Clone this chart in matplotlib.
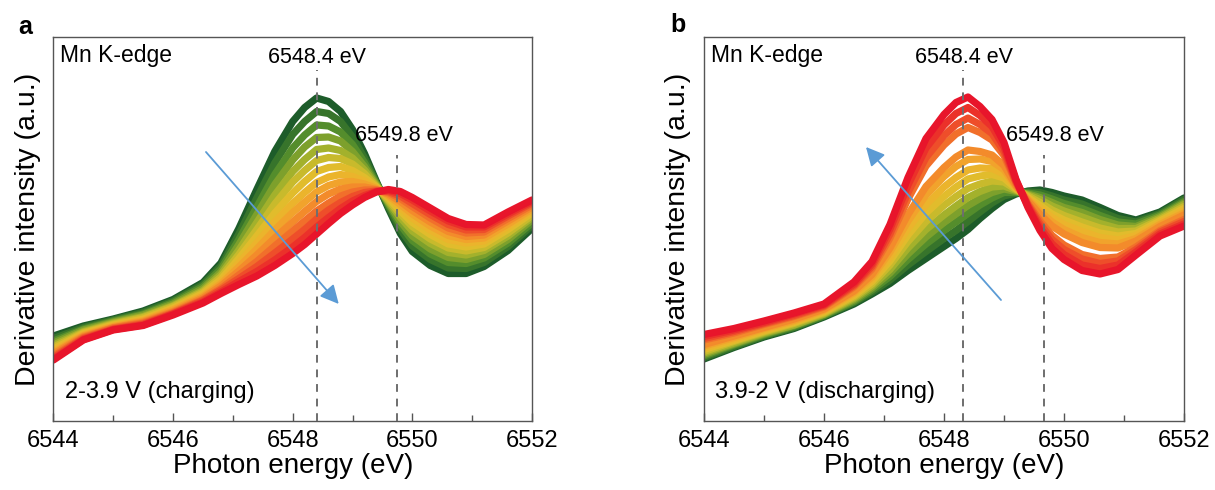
"""
Mn K-edge derivative XANES, charging (a) and discharging (b)
out: out.png
"""

import matplotlib
matplotlib.use("Agg")
import matplotlib.pyplot as plt
from matplotlib.colors import LinearSegmentedColormap
from matplotlib.ticker import MultipleLocator

plt.rcParams['font.family'] = ['Liberation Sans', 'DejaVu Sans']

energy = [6544, 6544.5, 6545, 6545.5, 6546, 6546.5, 6546.8, 6547.1, 6547.4, 6547.7, 6548.0, 6548.2, 6548.4,
          6548.6, 6548.8, 6549.0, 6549.2, 6549.4, 6549.6, 6549.8, 6550.0, 6550.3, 6550.6, 6550.9, 6551.2,
          6551.6, 6552]

# 2-3.9 V charging, first scan (green) -> last scan (red)
charge_curves = [
    [85.5, 95.5, 102.5, 110.5, 122, 139, 158.5, 193, 232, 270, 300, 314, 323.5, 320, 310, 292, 268, 240, 213, 188, 170, 156, 148, 148, 155, 171, 193],
    [83, 94, 101.5, 109, 120.5, 137, 155.5, 187.5, 223.5, 258.5, 287, 300, 310, 308, 300, 284.5, 263.5, 239, 215, 192, 175.5, 162, 153.5, 153, 159, 175, 196],
    [80.5, 92.5, 100.5, 107.5, 119, 135, 152.5, 182, 214.5, 247, 273.5, 286.5, 296.5, 295.5, 289.5, 277, 259, 238, 217, 196.5, 181, 167.5, 159, 158, 163.5, 178.5, 198.5],
    [78.5, 91.5, 99.5, 106.5, 117.5, 133, 149.5, 177, 207, 237, 261.5, 274.5, 284, 284.5, 280.5, 270, 255, 237, 218.5, 200, 185.5, 172.5, 164, 162, 167, 182, 201.5],
    [76.5, 90, 98.5, 105, 116, 131, 147, 171.5, 199, 226.5, 250, 262, 272, 273.5, 271, 263.5, 251.5, 236, 220, 204, 190.5, 178, 169, 166.5, 171, 185.5, 204],
    [74.5, 89, 97.5, 104, 115, 129.5, 144.5, 167, 192, 217.5, 239.5, 251, 261, 264, 263, 257.5, 248, 235, 221.5, 207.5, 195, 182.5, 173.5, 170.5, 174, 188.5, 206],
    [72.5, 88, 96.5, 102.5, 113.5, 128, 142, 163, 185.5, 208.5, 228.5, 240, 250, 254, 255, 251, 244, 234.5, 223.5, 210.5, 199, 187, 177.5, 174.5, 177.5, 192, 208.5],
    [70.5, 87, 95.5, 101.5, 112.5, 126.5, 139.5, 158.5, 178.5, 199.5, 218, 229, 239, 244.5, 247, 245, 240.5, 233.5, 225, 214, 203.5, 191.5, 182, 178.5, 180.5, 195, 210.5],
    [69, 86, 95, 100.5, 111.5, 125, 137.5, 154.5, 172.5, 191.5, 209, 219.5, 229.5, 236, 239.5, 240, 237.5, 233, 226, 217, 207.5, 195.5, 186, 182, 183.5, 197.5, 212.5],
    [67.5, 85, 94, 99.5, 110, 123.5, 135.5, 150.5, 166.5, 183.5, 199.5, 210, 220, 227.5, 232.5, 234.5, 234.5, 232, 227.5, 220, 211, 199.5, 190, 185, 186.5, 200.5, 214.5],
    [65.5, 84, 93.5, 98.5, 109, 122, 133, 146.5, 160, 175.5, 190.5, 200.5, 210.5, 218.5, 225.5, 229.5, 231.5, 231.5, 229, 223, 215, 203.5, 193.5, 188.5, 189.5, 203, 216.5],
    [64, 83, 92.5, 97.5, 108, 121, 131.5, 143, 155, 168.5, 182.5, 192, 202.5, 211.5, 219, 225, 229, 230.5, 230, 225.5, 218, 207, 197, 191.5, 192, 205.5, 218.5],
    [62.5, 82, 92, 96.5, 107.5, 119.5, 129.5, 140, 150, 161.5, 174.5, 184, 194.5, 204, 213, 220.5, 226, 230, 231, 228, 221.5, 210.5, 200.5, 194.5, 194.5, 207.5, 220],
    [61.5, 81.5, 91.5, 96, 106.5, 118.5, 128, 137, 145.5, 156, 168, 177, 187.5, 198, 208, 216.5, 224, 229.5, 232, 230, 224, 213.5, 203, 197, 196.5, 209.5, 221.5],
]

# 3.9-2 V discharging, first scan (green) -> last scan (red)
discharge_curves = [
    [62.5, 74, 84.5, 93, 104.5, 117.5, 127.5, 138, 151, 163, 175, 183, 192, 203, 213, 222, 227.5, 230.5, 231.5, 229, 225.5, 221.5, 214, 206, 201.5, 209.5, 223.5],
    [64, 75, 85.5, 94, 105.5, 119, 129.5, 141.5, 156.5, 170, 183, 191, 200, 209.5, 218.5, 225.5, 228.5, 229.5, 229, 225.5, 221.5, 217.5, 210, 203, 199.5, 208, 222],
    [65.5, 76.5, 86.5, 95, 106, 120, 131.5, 145, 162, 177.5, 191, 199.5, 208, 216.5, 223.5, 229, 229, 228.5, 226.5, 222.5, 218, 213, 206, 199.5, 197.5, 206.5, 220],
    [67, 77.5, 87.5, 96, 107, 121.5, 133.5, 148.5, 167.5, 184.5, 199, 207.5, 216, 223, 229, 232.5, 230, 227.5, 224, 219, 214, 209, 202, 196.5, 195, 205, 218.5],
    [68.5, 78.5, 88.5, 96.5, 107.5, 123, 135.5, 152, 173.5, 192, 206.5, 215.5, 224, 230, 234.5, 235.5, 231, 226.5, 222, 215.5, 210.5, 204.5, 198, 193, 193, 203.5, 217],
    [70, 80, 89.5, 98, 108.5, 124.5, 137.5, 156.5, 180, 200, 216, 225, 233, 237.5, 240.5, 239.5, 232, 225.5, 219, 211.5, 206, 199.5, 193.5, 189.5, 190.5, 202, 215],
    [72, 81, 90.5, 99, 109.5, 126, 140, 160.5, 186.5, 208.5, 225, 234.5, 242.5, 245.5, 247, 243.5, 233, 224, 216, 207.5, 201.5, 194.5, 188.5, 185.5, 188, 200.5, 213],
    [73.5, 82.5, 91.5, 100, 110.5, 127.5, 142, 164.5, 193, 217, 234.5, 244, 251.5, 253.5, 253, 247.5, 234, 223, 213.5, 204, 197, 190, 184, 181.5, 186, 198.5, 211],
    [75.5, 84, 93, 101, 111.5, 129, 144.5, 169.5, 200.5, 226.5, 245, 255, 262, 262.5, 260, 252, 235, 222, 210, 199.5, 192, 184, 179, 177.5, 183, 197, 208.5],
    [77, 85.5, 94, 102.5, 112.5, 130.5, 147, 173.5, 207, 235, 254, 264.5, 271.5, 270, 266.5, 256, 236, 220.5, 207, 195.5, 187.5, 179, 174, 173.5, 180.5, 195, 206.5],
    [81.5, 88.5, 97, 105, 114.5, 134.5, 152.5, 183.5, 222.5, 255.5, 276.5, 287.5, 294, 289, 281.5, 266, 238.5, 218, 200.5, 186, 176.5, 167, 163, 164.5, 174.5, 191, 202],
    [83, 90, 98, 106, 115.5, 136, 155, 187.5, 229, 264, 286, 297, 303.5, 297, 288, 270, 239.5, 216.5, 197.5, 182, 172, 162.5, 158, 160.5, 172, 189.5, 200],
    [85, 91.5, 99, 107.5, 116.5, 137.5, 157.5, 192.5, 236.5, 273.5, 296.5, 308, 314, 306, 295, 274.5, 241, 215.5, 194, 177.5, 167, 156.5, 153, 156.5, 169.5, 187.5, 197.5],
    [87, 93, 100.5, 108.5, 117.5, 139.5, 160, 197, 244, 283, 307, 319, 324.5, 315, 302, 279, 242, 214, 191, 173, 162, 151, 147.5, 152, 166.5, 185.5, 195.5],
]

peaks_a = [6548.4, 6549.75]
peaks_b = [6548.32, 6549.67]
peak_labels = ["6548.4 eV", "6549.8 eV"]
xticks = [6544, 6546, 6548, 6550, 6552]

cmap = LinearSegmentedColormap.from_list(
    "scan", ["#1d5c2a", "#4f8a2c", "#9aae2c", "#dcc02c", "#f0b02c", "#f3852b", "#ee4a2a", "#e8152b"])


def panel(ax, curves, peaks, label_x, mode_text, arrow_from, arrow_to):
    n = len(curves)
    for k, y in enumerate(curves):
        ax.plot(energy, y, color=cmap(k / (n - 1)), lw=5.2,
                solid_capstyle="round", solid_joinstyle="round", zorder=2)

    tops = [351.5, 266.5]
    for x, top in zip(peaks, tops):
        ax.plot([x, x], [0, top], ls=(0, (4, 3.5)), color="#6e6e6e", lw=1.4, zorder=3)
    ax.text(label_x[0], 363.5, peak_labels[0], ha="center", va="center", fontsize=15.5)
    ax.text(label_x[1], 285.5, peak_labels[1], ha="center", va="center", fontsize=15.5)

    ax.text(6544.11, 366, "Mn K-edge", ha="left", va="center", fontsize=16.5)
    ax.text(6544.19, 29.5, mode_text, ha="left", va="center", fontsize=17)

    ax.annotate("", xy=arrow_to, xytext=arrow_from,
                arrowprops=dict(arrowstyle="-|>", color="#5b9bd5", lw=1.3,
                                mutation_scale=28, shrinkA=0, shrinkB=0), zorder=4)

    ax.set_xlim(6544, 6552)
    ax.set_ylim(0, 384.5)
    ax.set_xticks(xticks)
    ax.xaxis.set_minor_locator(MultipleLocator(1))
    ax.set_yticks([])
    ax.tick_params(axis="x", which="major", direction="in", length=6, width=1,
                   color="#555555", labelsize=17, pad=6)
    ax.tick_params(axis="x", which="minor", direction="in", length=4, width=1, color="#555555")
    for s in ax.spines.values():
        s.set_color("#555555")
        s.set_linewidth(1.0)
    ax.set_xlabel("Photon energy (eV)", fontsize=20, labelpad=1)
    ax.set_ylabel("Derivative intensity (a.u.)", fontsize=20.5, labelpad=9)


def main():
    fig = plt.figure(figsize=(12.15, 4.9), dpi=100)
    ax1 = fig.add_axes([0.0440, 0.1398, 0.3938, 0.7847])
    ax2 = fig.add_axes([0.5794, 0.1398, 0.3951, 0.7847])

    panel(ax1, charge_curves, peaks_a, [6548.4, 6549.86], "2-3.9 V (charging)",
          (6546.55, 269.5), (6548.77, 117.5))
    panel(ax2, discharge_curves, peaks_b, [6548.33, 6549.85], "3.9-2 V (discharging)",
          (6548.95, 121.5), (6546.7, 274.5))

    fig.text(25 / 1215, 1 - 27 / 490, "a", fontsize=18, fontweight="bold", ha="center", va="center")
    fig.text(678 / 1215, 1 - 25 / 490, "b", fontsize=18, fontweight="bold", ha="center", va="center")

    fig.savefig("out.png", dpi=100)


if __name__ == "__main__":
    main()
